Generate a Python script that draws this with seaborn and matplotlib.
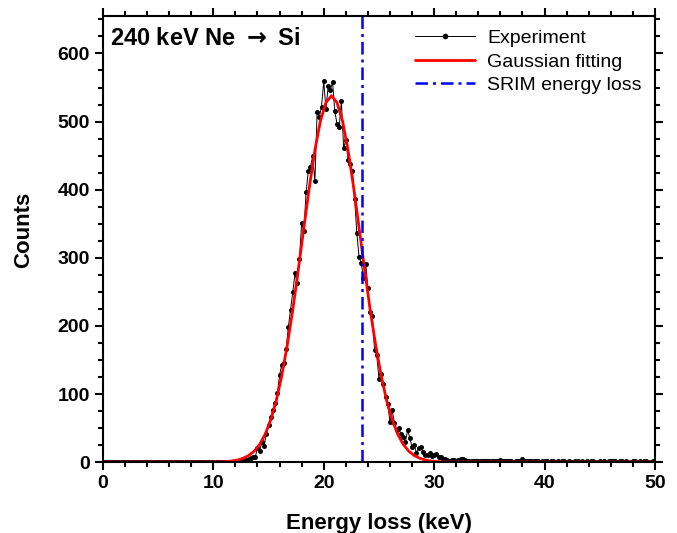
import numpy as np
import pandas as pd
import matplotlib
matplotlib.use("Agg")
import matplotlib.pyplot as plt
from matplotlib.ticker import MultipleLocator
from matplotlib.lines import Line2D
import seaborn as sns

# ─────────────────────────────
#  DATA
# ─────────────────────────────
bin_start = 0.0
bin_width = 0.2   # keV per channel

counts_low = [0] * 63  # 0.0 – 12.4 keV
counts_rise = [1, 2, 3, 4, 6, 8, 8, 20, 17, 29, 23, 42, 55, 66, 76, 87,
               101, 128, 143, 145, 166, 199, 224]                      # 12.6 – 17.0
counts_peak = [250, 277, 263, 298, 351, 339, 396, 427, 434, 449,
               412, 514, 507, 522, 559, 518, 552, 546, 558, 515,
               497, 492, 530, 461, 473, 444, 437, 427, 386, 336]       # 17.2 – 23.0
counts_fall = [301, 292, 270, 291, 255, 221, 215, 165, 157, 122,
               129, 115, 95, 85, 59, 76, 58, 47, 50, 41,
               37, 30, 47, 35, 22, 25, 13, 21, 22, 15, 10]             # 23.2 – 29.2
counts_tail = [10, 13, 9, 10, 12, 8, 7, 5, 4, 3, 2, 3, 3, 2, 3, 4, 5, 3, 2,
               2, 1, 2, 1, 2, 1, 1, 2, 1, 1, 2, 1, 1, 2, 3, 2, 1, 1, 1, 1,
               0, 1, 1, 2, 4, 2, 1, 1, 1, 2, 1, 1, 0, 1, 1,
               1, 0, 1, 1, 0, 1, 0, 1, 1, 0, 1, 0, 0, 1, 1, 0, 1, 0, 1, 0,
               1, 1, 0, 0, 1, 0, 1, 0, 1, 2, 1, 1, 0, 1, 1, 0, 1, 0, 0, 1,
               1, 0, 1, 0, 1, 1, 0, 0, 1, 0]                           # 29.4 – 50.0

fit_energy = [0.0, 9.7, 10.2, 10.7, 11.2, 11.7, 12.2, 12.7, 13.2, 13.7, 14.2,
              14.7, 15.2, 15.7, 16.2, 16.7, 17.2, 17.7, 18.2, 18.7, 19.2,
              19.7, 20.2, 20.7, 21.2, 21.7, 22.2, 22.7, 23.2, 23.7, 24.2,
              24.7, 25.2, 25.7, 26.2, 26.7, 27.2, 27.7, 28.2, 28.7, 29.2,
              29.7, 30.2, 30.7, 31.2, 31.7, 50.0]
fit_counts = [0, 0.1, 0.2, 0.4, 0.9, 1.7, 3.1, 5.6, 9.7, 16, 26,
              41, 62, 90, 127, 172, 224, 283, 344, 404, 458,
              501, 528, 538, 528, 501, 458, 404, 344, 283, 224,
              172, 127, 90, 62, 41, 26, 16, 9.7, 5.6, 3.1,
              1.7, 0.9, 0.4, 0.2, 0.1, 0]

srim_loss = 23.5  # keV

counts = counts_low + counts_rise + counts_peak + counts_fall + counts_tail
energy = np.round(bin_start + bin_width * np.arange(len(counts)), 1)
df_exp = pd.DataFrame({"energy": energy, "counts": counts})
df_fit = pd.DataFrame({"energy": fit_energy, "counts": fit_counts})

# ─────────────────────────────
#  STYLE
# ─────────────────────────────
sns.set_style("ticks")
plt.rcParams["font.family"] = ["Liberation Sans", "DejaVu Sans"]
plt.rcParams["font.weight"] = "bold"
plt.rcParams["axes.linewidth"] = 1.5
plt.rcParams["text.color"] = "black"
plt.rcParams["axes.labelcolor"] = "black"
plt.rcParams["xtick.color"] = "black"
plt.rcParams["ytick.color"] = "black"
plt.rcParams["mathtext.fontset"] = "dejavusans"

blue_dash = (0, (5, 2, 1.2, 2))

# ─────────────────────────────
#  PLOT
# ─────────────────────────────
fig, ax = plt.subplots(figsize=(6.77, 5.33), dpi=100)
fig.subplots_adjust(left=0.152, right=0.9675, bottom=0.133, top=0.97)

sns.lineplot(data=df_exp, x="energy", y="counts", ax=ax, color="black",
             linewidth=0.7, marker="o", markersize=3.6, markeredgewidth=0)
sns.lineplot(data=df_fit, x="energy", y="counts", ax=ax, color="#ff0000",
             linewidth=2.0)
ax.axvline(srim_loss, color="#0000ff", linestyle=blue_dash, linewidth=1.8)

ax.set_xlim(0, 50)
ax.set_ylim(0, 655)
ax.xaxis.set_major_locator(MultipleLocator(10))
ax.xaxis.set_minor_locator(MultipleLocator(2))
ax.yaxis.set_major_locator(MultipleLocator(100))
ax.yaxis.set_minor_locator(MultipleLocator(25))
ax.tick_params(which="both", direction="out", top=True, right=True,
               width=1.5, labelsize=14, colors="black")
ax.tick_params(which="major", length=6)
ax.tick_params(which="minor", length=3.5)
for s in ax.spines.values():
    s.set_visible(True)
    s.set_color("black")
    s.set_linewidth(1.5)

ax.set_xlabel("Energy loss (keV)", fontsize=16, fontweight="bold", labelpad=15)
ax.set_ylabel("Counts", fontsize=16, fontweight="bold")
ax.yaxis.set_label_coords(-0.125, 0.52)

ax.text(0.012, 0.975, "240 keV Ne $\\rightarrow$ Si", transform=ax.transAxes,
        ha="left", va="top", fontsize=17, fontweight="bold")

handles = [
    Line2D([], [], color="black", linewidth=0.7, marker="o", markersize=3),
    Line2D([], [], color="#ff0000", linewidth=2.0),
    Line2D([], [], color="#0000ff", linewidth=1.8, linestyle=blue_dash),
]
labels = ["Experiment", "Gaussian fitting", "SRIM energy loss"]
ax.legend(handles, labels, loc="upper right", frameon=False,
          handlelength=3.1, handletextpad=0.6,
          labelspacing=0.3, borderaxespad=0.3,
          prop={"weight": "normal", "size": 14})

plt.savefig("out.png", dpi=100)
